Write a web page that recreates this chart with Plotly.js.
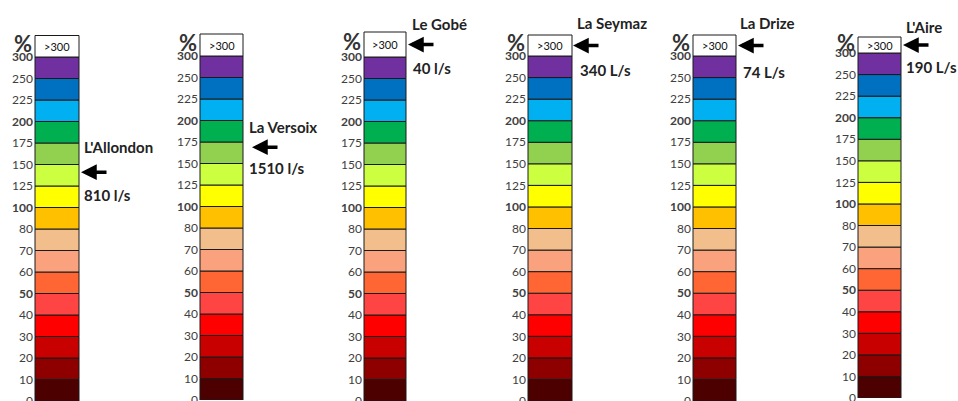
<!DOCTYPE html>
<html><head><meta charset="utf-8">
<script src="https://cdn.plot.ly/plotly-3.0.1.min.js"></script>
<style>html,body{margin:0;padding:0;background:#fff}#chart{width:958px;height:401px}</style>
</head><body><div id="chart"></div>
<script>
// ---- data ----
const boundaries = [0,10,20,30,40,50,60,70,80,100,125,150,175,200,225,250,300];
const topLabel = ">300";
const segColors = ["#4d0000","#8e0000","#c80000","#ff0000","#ff4444","#ff6633","#f9a27d","#f2bf8c",
                   "#ffc000","#ffff00","#ccff40","#92d050","#00b050","#00b0f0","#0070c0","#7030a0","#ffffff"];
const rivers = ["L'Allondon","La Versoix","Le Gobé","La Seymaz","La Drize","L'Aire"];
const flows = ["810 l/s","1510 l/s","40 l/s","340 L/s","74 L/s","190 L/s"];
const levelPct = [141, 169, ">300", ">300", ">300", ">300"];
const boldTicks = [50,100,200,300];

// ---- geometry (pixels, style only) ----
const W = 958, H = 401;
const geom = [
  {xl:35, xr:79,  y0:401, y300:57, yTop:35.5, nameX:82,  nameY:147, flowX:82,  flowY:195, arrowX:81},
  {xl:200,xr:243, y0:400, y300:56, yTop:34,   nameX:247, nameY:127, flowX:247, flowY:168, arrowX:252},
  {xl:364,xr:406, y0:401, y300:57, yTop:32,   nameX:410, nameY:24,  flowX:411, flowY:68,  arrowX:408},
  {xl:528,xr:572, y0:401, y300:56, yTop:35,   nameX:575, nameY:23,  flowX:578, flowY:70,  arrowX:573},
  {xl:693,xr:736, y0:401, y300:56, yTop:35,   nameX:738, nameY:23,  flowX:741, flowY:72,  arrowX:738},
  {xl:858,xr:901, y0:398, y300:53, yTop:37,   nameX:904, nameY:27,  flowX:904, flowY:67,  arrowX:903}
];

const FONT = "Lato, 'Open Sans', sans-serif";
const nSeg = boundaries.length - 1;

function pctToIndex(p, boxH) {
  if (p === ">300") return nSeg + boxH / 2;
  for (let i = 0; i < nSeg; i++) {
    if (p >= boundaries[i] && p < boundaries[i+1])
      return i + (p - boundaries[i]) / (boundaries[i+1] - boundaries[i]);
  }
  return nSeg;
}
const px = x => x / W;
const py = y => 1 - y / H;

const traces = [];
const layout = {
  width: W, height: H, margin: {l:0, r:0, t:0, b:0},
  paper_bgcolor: "#fff", plot_bgcolor: "rgba(0,0,0,0)",
  showlegend: false, barmode: "overlay",
  annotations: [], font: {family: FONT}
};

const tickText = boundaries.map(b => boldTicks.includes(b) ? "<b>" + b + "</b>" : String(b));

geom.forEach((g, k) => {
  const n = k + 1;
  const unit = (g.y0 - g.y300) / nSeg;
  const boxH = (g.y300 - g.yTop) / unit;
  const heights = boundaries.slice(0, nSeg).map(() => 1).concat([boxH]);
  const bases = segColors.map((c, i) => i);
  traces.push({
    type: "bar", x: segColors.map(() => 0), y: heights, base: bases, width: 1,
    marker: {color: segColors, line: {color: "#1a1a1a", width: 1}},
    xaxis: "x" + n, yaxis: "y" + n, hoverinfo: "skip"
  });
  const bw = g.xr - g.xl;
  const padX = 1 / bw;
  layout["xaxis" + n] = {
    domain: [px(g.xl - 1), px(g.xr + 1)], range: [-0.5 - padX, 0.5 + padX],
    anchor: "y" + n, visible: false, fixedrange: true
  };
  const padTop = 1.2 / unit;
  const topIdx = nSeg + boxH + padTop;
  layout["yaxis" + n] = {
    domain: [py(g.y0), py(g.yTop - 1.2)], range: [0, topIdx], anchor: "x" + n,
    tickmode: "array", tickvals: boundaries.map((b, i) => i), ticktext: tickText,
    ticks: "", showgrid: false, zeroline: false, showline: false, ticklabeloverflow: "allow",
    tickfont: {family: FONT, size: 12, color: "#404040"}, ticklabelstandoff: 0, fixedrange: true
  };
  // >300 label in the box
  layout.annotations.push({
    xref: "x" + n, yref: "y" + n, x: 0, y: nSeg + boxH / 2, text: topLabel, showarrow: false,
    font: {family: FONT, size: 11, color: "#111"}, xanchor: "center", yanchor: "middle"
  });
  // % sign
  layout.annotations.push({
    xref: "paper", yref: "paper", x: px(g.xl - 1), y: py((g.yTop + g.y300) / 2 - 3),
    text: "<b>%</b>", showarrow: false, xanchor: "right", yanchor: "middle",
    font: {family: FONT, size: 22, color: "#333"}
  });
  // river name
  layout.annotations.push({
    xref: "paper", yref: "paper", x: px(g.nameX), y: py(g.nameY), text: "<b>" + rivers[k] + "</b>",
    showarrow: false, xanchor: "left", yanchor: "middle", font: {family: FONT, size: 15, color: "#222"}
  });
  // flow
  layout.annotations.push({
    xref: "paper", yref: "paper", x: px(g.flowX), y: py(g.flowY), text: "<b>" + flows[k] + "</b>",
    showarrow: false, xanchor: "left", yanchor: "middle", font: {family: FONT, size: 15, color: "#222"}
  });
  // arrow
  layout.annotations.push({
    xref: "paper", yref: "y" + n, x: px(g.arrowX), y: pctToIndex(levelPct[k], boxH), text: "",
    showarrow: true, ax: 27, ay: 0, arrowhead: 2, arrowsize: 0.9, arrowwidth: 3.5,
    arrowcolor: "#000", standoff: 0
  });
});

Plotly.newPlot("chart", traces, layout, {displayModeBar: false, staticPlot: true});
</script></body></html>
